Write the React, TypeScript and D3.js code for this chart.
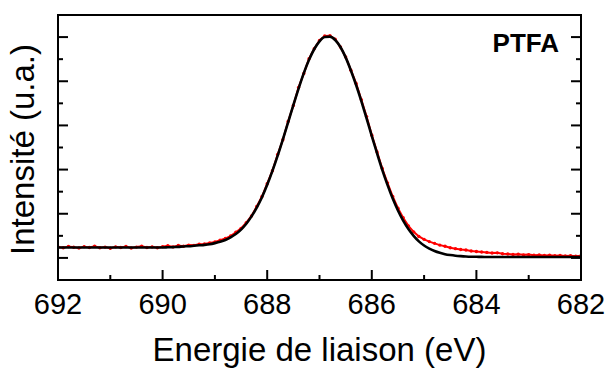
import React from 'react';
import * as d3 from 'd3';

// Binding energy grid (eV)
const energies = [
  692.0, 691.9, 691.8, 691.7, 691.6, 691.5, 691.4, 691.3, 691.2, 691.1,
  691.0, 690.9, 690.8, 690.7, 690.6, 690.5, 690.4, 690.3, 690.2, 690.1,
  690.0, 689.9, 689.8, 689.7, 689.6, 689.5, 689.4, 689.3, 689.2, 689.1,
  689.0, 688.9, 688.8, 688.7, 688.6, 688.5, 688.4, 688.3, 688.2, 688.1,
  688.0, 687.9, 687.8, 687.7, 687.6, 687.5, 687.4, 687.3, 687.2, 687.1,
  687.0, 686.9, 686.8, 686.7, 686.6, 686.5, 686.4, 686.3, 686.2, 686.1,
  686.0, 685.9, 685.8, 685.7, 685.6, 685.5, 685.4, 685.3, 685.2, 685.1,
  685.0, 684.9, 684.8, 684.7, 684.6, 684.5, 684.4, 684.3, 684.2, 684.1,
  684.0, 683.9, 683.8, 683.7, 683.6, 683.5, 683.4, 683.3, 683.2, 683.1,
  683.0, 682.9, 682.8, 682.7, 682.6, 682.5, 682.4, 682.3, 682.2, 682.1,
  682.0,
];

// Measured spectrum (red points), arbitrary units
const measured = [
  1.50, 1.46, 1.52, 1.48, 1.45, 1.51, 1.47, 1.53, 1.46, 1.49,
  1.44, 1.50, 1.47, 1.52, 1.45, 1.49, 1.53, 1.47, 1.50, 1.46,
  1.51, 1.55, 1.50, 1.56, 1.53, 1.58, 1.57, 1.62, 1.63, 1.68,
  1.72, 1.80, 1.88, 1.99, 2.16, 2.34, 2.60, 2.90, 3.33, 3.78,
  4.36, 4.95, 5.68, 6.35, 7.18, 7.90, 8.72, 9.35, 10.02, 10.47,
  10.85, 11.05, 11.06, 10.90, 10.55, 10.10, 9.50, 8.90, 8.16, 7.40,
  6.56, 5.80, 5.05, 4.40, 3.78, 3.25, 2.82, 2.45, 2.18, 1.97,
  1.84, 1.74, 1.66, 1.58, 1.53, 1.46, 1.42, 1.38, 1.36, 1.31,
  1.29, 1.27, 1.25, 1.22, 1.23, 1.19, 1.18, 1.16, 1.17, 1.14,
  1.15, 1.12, 1.13, 1.11, 1.12, 1.10, 1.11, 1.09, 1.10, 1.08,
  1.10,
];

// Fitted envelope (black line), arbitrary units
const fitted = [
  1.47, 1.47, 1.47, 1.47, 1.47, 1.47, 1.47, 1.47, 1.47, 1.47,
  1.47, 1.47, 1.47, 1.47, 1.47, 1.47, 1.47, 1.47, 1.47, 1.47,
  1.47, 1.48, 1.49, 1.50, 1.52, 1.53, 1.55, 1.57, 1.59, 1.62,
  1.67, 1.73, 1.81, 1.93, 2.08, 2.28, 2.545, 2.88, 3.28, 3.75,
  4.31, 4.94, 5.63, 6.37, 7.14, 7.92, 8.67, 9.37, 9.97, 10.46,
  10.81, 11.00, 11.02, 10.87, 10.55, 10.08, 9.49, 8.83, 8.10, 7.32,
  6.52, 5.74, 4.99, 4.31, 3.69, 3.15, 2.69, 2.31, 2.00, 1.75,
  1.56, 1.42, 1.31, 1.23, 1.17, 1.13, 1.10, 1.08, 1.065, 1.055,
  1.05, 1.046, 1.044, 1.042, 1.042, 1.042, 1.042, 1.042, 1.042, 1.042,
  1.042, 1.042, 1.042, 1.042, 1.042, 1.042, 1.042, 1.042, 1.042, 1.042,
  1.042,
];

const xTicksMajor = [692, 690, 688, 686, 684, 682];
const xTicksMinor = [691, 689, 687, 685, 683];
const yTicksMajor = [1, 3, 5, 7, 9, 11];
const yTicksMinor = [2, 4, 6, 8, 10];
const xLabel = 'Energie de liaison (eV)';
const yLabel = 'Intensité (u.a.)';
const sampleName = 'PTFA';

const W = 606;
const H = 370;
const L = 58;
const R = 581;
const T = 15;
const B = 280;
const FONT = "'Liberation Sans', Arial, Helvetica, sans-serif";

export default function App() {
  const x = d3.scaleLinear().domain([692, 682]).range([L, R]);
  const y = d3.scaleLinear().domain([0, 12]).range([B, T]);

  const pts = energies.map((e, i) => ({ e, m: measured[i], f: fitted[i] }));

  const dataLine = d3
    .line<{ e: number; m: number }>()
    .x((d) => x(d.e))
    .y((d) => y(d.m));
  const fitLine = d3
    .line<{ e: number; f: number }>()
    .x((d) => x(d.e))
    .y((d) => y(d.f))
    .curve(d3.curveMonotoneX);

  const major = 10;
  const minor = 5;

  return (
    <svg
      width={W}
      height={H}
      style={{ position: 'absolute', left: 0, top: 0, background: '#fff' }}
    >
      <rect x={0} y={0} width={W} height={H} fill="#fff" />
      <defs>
        <clipPath id="plot">
          <rect x={L} y={T} width={R - L} height={B - T} />
        </clipPath>
      </defs>
      <g clipPath="url(#plot)">
        <path d={dataLine(pts) || ''} fill="none" stroke="#ff0000" strokeWidth={2} />
        {pts.map((d, i) => (
          <circle key={i} cx={x(d.e)} cy={y(d.m)} r={1.7} fill="#ff0000" />
        ))}
        <path d={fitLine(pts) || ''} fill="none" stroke="#000" strokeWidth={2.6} />
      </g>

      {/* ticks */}
      <g stroke="#000" strokeWidth={2}>
        {xTicksMajor.map((t) => (
          <line key={'xM' + t} x1={x(t)} x2={x(t)} y1={B} y2={B - major} />
        ))}
        {xTicksMinor.map((t) => (
          <line key={'xm' + t} x1={x(t)} x2={x(t)} y1={B} y2={B - minor} />
        ))}
        {yTicksMajor.map((t) => (
          <g key={'yM' + t}>
            <line x1={L} x2={L + major} y1={y(t)} y2={y(t)} />
            <line x1={R} x2={R - major} y1={y(t)} y2={y(t)} />
          </g>
        ))}
        {yTicksMinor.map((t) => (
          <g key={'ym' + t}>
            <line x1={L} x2={L + minor} y1={y(t)} y2={y(t)} />
            <line x1={R} x2={R - minor} y1={y(t)} y2={y(t)} />
          </g>
        ))}
      </g>

      <rect x={L} y={T} width={R - L} height={B - T} fill="none" stroke="#000" strokeWidth={2} />

      {/* tick labels */}
      <g fontFamily={FONT} fontSize={29} fill="#000" textAnchor="middle">
        {xTicksMajor.map((t) => (
          <text key={'xl' + t} x={x(t)} y={314}>
            {t}
          </text>
        ))}
      </g>

      <text
        x={(L + R) / 2}
        y={361}
        textAnchor="middle"
        fontFamily={FONT}
        fontSize={33}
        fill="#000"
      >
        {xLabel}
      </text>
      <text
        transform={`translate(33.5, ${(T + B) / 2 + 2}) rotate(-90)`}
        textAnchor="middle"
        fontFamily={FONT}
        fontSize={33}
        fill="#000"
      >
        {yLabel}
      </text>
      <text
        x={559}
        y={52}
        textAnchor="end"
        fontFamily={FONT}
        fontSize={26}
        fontWeight="bold"
        fill="#000"
      >
        {sampleName}
      </text>
    </svg>
  );
}
